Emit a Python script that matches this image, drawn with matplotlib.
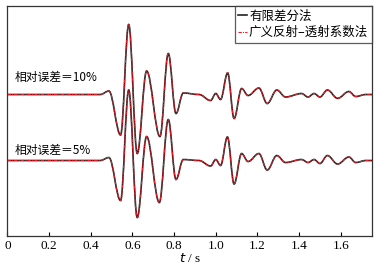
import numpy as np
import matplotlib
matplotlib.use("Agg")
import matplotlib.pyplot as plt
from matplotlib.path import Path
from matplotlib.patches import PathPatch
from matplotlib.lines import Line2D

plt.rcParams['font.family'] = ['Noto Sans CJK SC', 'DejaVu Sans']

# extrema of the traces (time in s, amplitude in arbitrary units)
t_10 = [0.0, 0.445, 0.487, 0.543, 0.582, 0.623, 0.668, 0.732, 0.772, 0.809, 0.844,
        0.92, 0.975, 1.000, 1.023, 1.057, 1.088, 1.124, 1.155, 1.207, 1.247, 1.293,
        1.335, 1.412, 1.443, 1.472, 1.500, 1.536, 1.585, 1.639, 1.672, 1.72, 1.75]
fd_10 = [0.0, 0.0, 0.035, -0.405, 0.70, -0.59, 0.235, -0.42, 0.41, -0.19, 0.015,
         0.0, -0.06, 0.01, -0.05, 0.215, -0.24, 0.06, -0.01, 0.065, -0.09, 0.045,
         -0.025, 0.01, -0.025, 0.01, -0.025, 0.045, -0.038, 0.03, -0.02, 0.0, 0.0]
grt_10 = [0.0, 0.0, 0.035, -0.40, 0.705, -0.585, 0.235, -0.42, 0.415, -0.19, 0.015,
          0.0, -0.06, 0.01, -0.05, 0.22, -0.24, 0.06, -0.01, 0.065, -0.09, 0.045,
          -0.025, 0.01, -0.025, 0.01, -0.025, 0.045, -0.038, 0.03, -0.02, 0.0, 0.0]

t_5 = [0.0, 0.445, 0.487, 0.543, 0.582, 0.623, 0.668, 0.729, 0.772, 0.809, 0.844,
       0.92, 0.975, 1.000, 1.023, 1.056, 1.088, 1.124, 1.155, 1.207, 1.247, 1.293,
       1.335, 1.412, 1.443, 1.472, 1.500, 1.536, 1.585, 1.639, 1.672, 1.72, 1.75]
fd_5 = [0.0, 0.0, 0.03, -0.40, 0.705, -0.57, 0.24, -0.42, 0.41, -0.19, 0.01,
        0.0, -0.055, 0.01, -0.05, 0.235, -0.235, 0.07, -0.01, 0.07, -0.095, 0.05,
        -0.02, 0.01, -0.02, 0.01, -0.03, 0.05, -0.035, 0.035, -0.02, 0.0, 0.0]
grt_5 = [0.0, 0.0, 0.03, -0.40, 0.70, -0.575, 0.24, -0.42, 0.41, -0.19, 0.01,
         0.0, -0.055, 0.01, -0.05, 0.235, -0.235, 0.07, -0.01, 0.07, -0.095, 0.05,
         -0.02, 0.01, -0.02, 0.01, -0.03, 0.05, -0.035, 0.035, -0.02, 0.0, 0.0]

offset_10 = 0.66
offset_5 = 0.0
xticks = [0, 0.2, 0.4, 0.6, 0.8, 1.0, 1.2, 1.4, 1.6]
xticklabels = ["0", "0.2", "0.4", "0.6", "0.8", "1.0", "1.2", "1.4", "1.6"]


def wave_path(t, a, offset, k=0.3642):
    # smooth curve through the extrema, flat tangent at each one
    verts = [(t[0], a[0] + offset)]
    codes = [Path.MOVETO]
    for i in range(len(t) - 1):
        dt = t[i + 1] - t[i]
        verts += [(t[i] + k * dt, a[i] + offset),
                  (t[i + 1] - k * dt, a[i + 1] + offset),
                  (t[i + 1], a[i + 1] + offset)]
        codes += [Path.CURVE4] * 3
    return Path(verts, codes)


fig = plt.figure(figsize=(3.82, 2.67), dpi=100)
ax = fig.add_axes([0.0196, 0.116, 0.9542, 0.8615])

red_ls = (0, (3, 1, 1, 1))
for t, fd, grt, off in [(t_10, fd_10, grt_10, offset_10), (t_5, fd_5, grt_5, offset_5)]:
    ax.add_patch(PathPatch(wave_path(t, fd, off), fill=False, edgecolor='#222222', lw=1.2))
    ax.add_patch(PathPatch(wave_path(t, grt, off), fill=False, edgecolor='#e8202a',
                           lw=0.8, linestyle=red_ls))

ax.set_xlim(0, 1.75)
ax.set_ylim(-0.755, 1.545)
ax.set_yticks([])
ax.set_xticks(xticks)
ax.set_xticklabels(xticklabels, family='Liberation Serif', fontsize=9.5)
ax.tick_params(axis='x', direction='in', length=3, width=0.8, pad=3)
for s in ax.spines.values():
    s.set_linewidth(0.9)
    s.set_color('#333333')

ax.set_xlabel(r"$t$ / s", family='Liberation Serif', fontsize=9.5, labelpad=0)

ax.text(0.032, offset_10 + 0.17, "相对误差＝10%", fontsize=8.5, va='center', ha='left')
ax.text(0.032, offset_5 + 0.10, "相对误差＝5%", fontsize=8.5, va='center', ha='left')

handles = [Line2D([], [], color='#222222', lw=1.2),
           Line2D([], [], color='#e8202a', lw=0.8, linestyle=red_ls)]
leg = ax.legend(handles, ["有限差分法", "广义反射–透射系数法"], loc='upper right',
                fontsize=9, frameon=True, fancybox=False, borderaxespad=0,
                handlelength=0.7, handletextpad=0.15, labelspacing=0.25,
                borderpad=0.3)
leg.get_frame().set_edgecolor('#333333')
leg.get_frame().set_linewidth(0.9)

fig.savefig("out.png", dpi=100)
